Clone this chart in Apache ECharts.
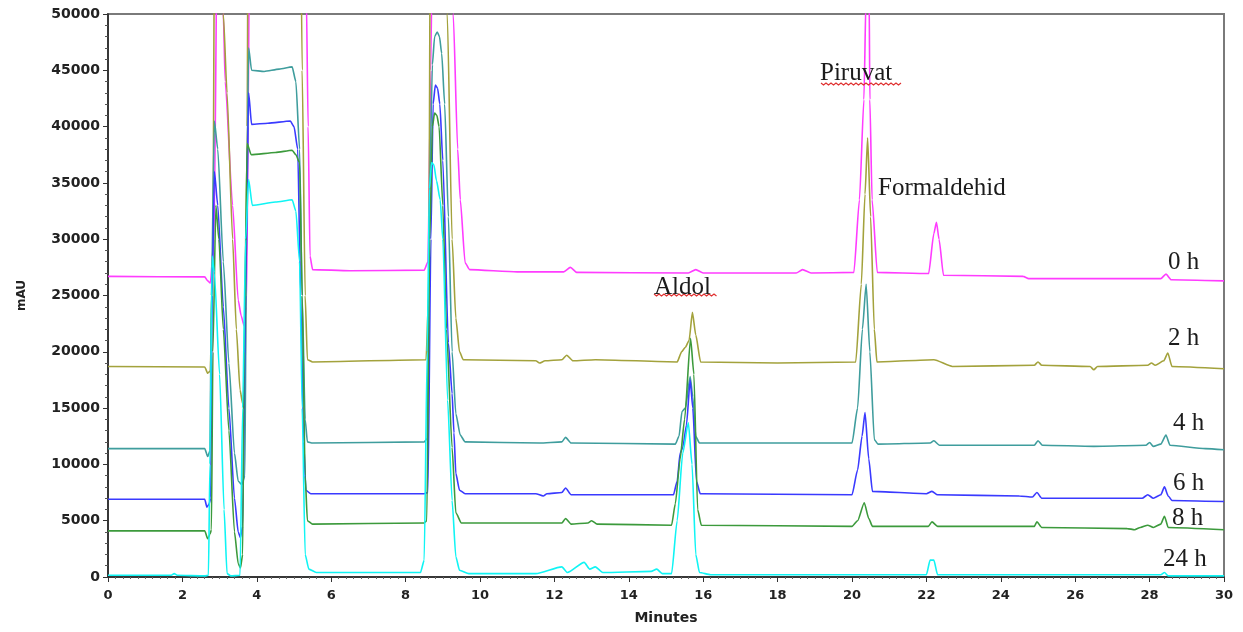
<!DOCTYPE html>
<html>
<head>
<meta charset="utf-8">
<script src="https://cdn.jsdelivr.net/npm/echarts@6/dist/echarts.min.js"></script>
<style>html,body{margin:0;padding:0;background:#fff}#c{width:1243px;height:632px}</style>
</head>
<body>
<div id="c"></div>
<script>
// x ticks (minutes) and y ticks (mAU)
const xTicks = [0, 2, 4, 6, 8, 10, 12, 14, 16, 18, 20, 22, 24, 26, 28, 30];
const yTicks = [0, 5000, 10000, 15000, 20000, 25000, 30000, 35000, 40000, 45000, 50000];

const seriesNames = ['0 h', '2 h', '4 h', '6 h', '8 h', '24 h'];

// [minute, mAU] pairs (values above 50000 are off-scale)
const trace0h = [[0,26700],[2.6,26650],[2.68,26300],[2.75,26100],[2.85,30000],[2.95,62000],[3.05,70000],[3.1,50000],[3.15,44000],[3.35,33000],[3.5,24600],[3.58,23200],[3.66,22300],[3.72,24000],[3.77,40000],[3.82,70000],[5.25,70000],[5.33,52000],[5.38,40000],[5.43,28500],[5.5,27300],[6.5,27200],[8.5,27250],[8.6,28000],[8.68,45000],[8.75,70000],[9.15,70000],[9.28,50000],[9.4,38000],[9.47,33500],[9.6,27900],[9.72,27300],[11,27100],[12.25,27100],[12.43,27500],[12.6,27050],[15.6,27000],[15.8,27300],[16,27000],[18.5,27000],[18.67,27300],[18.9,27000],[20.05,27050],[20.2,33500],[20.32,42400],[20.38,52000],[20.42,70000],[20.46,52000],[20.48,42400],[20.54,33500],[20.68,27050],[22.06,26950],[22.2,30500],[22.27,31500],[22.34,30000],[22.46,26800],[24.6,26700],[24.75,26500],[28.3,26500],[28.44,26900],[28.58,26400],[30,26300]];

const trace2h = [[0,18700],[2.6,18650],[2.68,18100],[2.75,18300],[2.82,30000],[2.88,70000],[2.97,70000],[3.1,50000],[3.2,43000],[3.35,30000],[3.45,22000],[3.55,16600],[3.62,15400],[3.68,15600],[3.74,40000],[3.78,70000],[5.15,70000],[5.22,45000],[5.3,25000],[5.36,19300],[5.5,19100],[8.55,19300],[8.62,25000],[8.68,70000],[9.05,70000],[9.12,50000],[9.25,30000],[9.35,23000],[9.45,20000],[9.55,19300],[11.5,19200],[11.6,19000],[11.75,19200],[12.2,19300],[12.33,19700],[12.5,19200],[13.1,19300],[15.3,19100],[15.42,20000],[15.52,20400],[15.62,21000],[15.71,23500],[15.8,21500],[15.93,19100],[18,19000],[20.1,19100],[20.25,26000],[20.35,34000],[20.42,39000],[20.5,32000],[20.6,22000],[20.67,19100],[22.2,19300],[22.7,18700],[24.9,18800],[25.0,19100],[25.1,18800],[26.4,18700],[26.5,18400],[26.6,18700],[27.95,18800],[28.05,19000],[28.15,18800],[28.38,19200],[28.49,19900],[28.6,18700],[30,18500]];

const trace4h = [[0,11400],[2.6,11400],[2.68,10700],[2.74,11200],[2.78,25000],[2.86,40500],[2.95,38000],[3.1,28000],[3.25,19000],[3.4,11000],[3.5,8500],[3.6,8200],[3.68,9000],[3.72,30000],[3.78,47000],[3.86,45000],[4.2,44900],[4.6,45100],[4.95,45300],[5.05,44000],[5.15,38000],[5.22,25000],[5.3,14000],[5.36,12000],[5.5,11900],[8.5,12000],[8.58,12300],[8.65,35000],[8.72,45500],[8.78,48000],[8.85,48400],[8.91,48000],[8.97,46500],[9.05,42000],[9.15,32000],[9.25,20000],[9.35,14500],[9.47,12600],[9.6,12000],[11.6,11900],[12.2,12000],[12.3,12400],[12.45,11900],[15.25,11800],[15.35,12500],[15.43,14700],[15.52,15000],[15.65,17800],[15.72,16000],[15.8,12500],[15.9,11900],[20.0,11900],[20.15,15000],[20.28,22000],[20.38,26000],[20.48,20000],[20.6,12200],[20.7,11800],[22.1,11900],[22.2,12100],[22.35,11700],[24.9,11700],[25.0,12100],[25.12,11700],[26.5,11600],[27.9,11700],[28.0,11950],[28.1,11600],[28.3,11800],[28.44,12600],[28.55,11700],[29.5,11400],[30,11300]];

const trace6h = [[0,6900],[2.6,6900],[2.66,6200],[2.72,6500],[2.76,7000],[2.8,25000],[2.86,36000],[2.95,33000],[3.1,24000],[3.25,15000],[3.4,7000],[3.5,4000],[3.56,3500],[3.62,4500],[3.7,25000],[3.78,43000],[3.86,40200],[4.3,40300],[4.9,40500],[5.0,40000],[5.1,38000],[5.18,25000],[5.26,12000],[5.32,7700],[5.45,7400],[8.5,7400],[8.6,7500],[8.68,30000],[8.74,42000],[8.8,43700],[8.86,43400],[8.92,42000],[9.0,37000],[9.15,20800],[9.25,16300],[9.3,12800],[9.35,9200],[9.45,7700],[9.6,7400],[11.5,7400],[11.7,7200],[11.8,7400],[12.2,7500],[12.3,7900],[12.45,7300],[15.2,7300],[15.3,8500],[15.38,11000],[15.45,11500],[15.55,13500],[15.65,17500],[15.72,15000],[15.82,8500],[15.92,7400],[20.0,7300],[20.15,9500],[20.27,12500],[20.35,14600],[20.45,10500],[20.55,7600],[22.0,7400],[22.15,7600],[22.3,7300],[24.5,7200],[24.85,7100],[24.97,7500],[25.1,7000],[27.8,7000],[27.95,7300],[28.1,7000],[28.3,7300],[28.4,8000],[28.5,7200],[28.6,6800],[30,6700]];

const trace8h = [[0,4100],[2.6,4100],[2.68,3400],[2.74,3800],[2.78,4200],[2.82,20000],[2.9,33000],[2.98,30000],[3.1,22000],[3.25,13000],[3.4,4000],[3.5,1200],[3.56,800],[3.62,2000],[3.66,20000],[3.74,38500],[3.85,37500],[4.5,37700],[4.95,37900],[5.05,37500],[5.15,36800],[5.22,25000],[5.3,9000],[5.36,5000],[5.5,4700],[8.5,4800],[8.57,5000],[8.65,30000],[8.72,40000],[8.78,41200],[8.84,41000],[8.9,40000],[9.0,33000],[9.1,22000],[9.25,11500],[9.35,5700],[9.5,4800],[12.2,4800],[12.3,5200],[12.45,4700],[12.9,4800],[13.0,5000],[13.15,4700],[15.15,4600],[15.25,6500],[15.38,10500],[15.5,14000],[15.66,21200],[15.75,18000],[15.85,6000],[15.95,4600],[20.0,4500],[20.15,5000],[20.33,6600],[20.45,5200],[20.55,4500],[22.05,4500],[22.15,4900],[22.3,4500],[24.9,4500],[24.97,4900],[25.1,4400],[27.4,4300],[27.6,4200],[27.75,4400],[27.95,4600],[28.1,4400],[28.3,4700],[28.4,5400],[28.5,4400],[30,4200]];

const trace24h = [[0,150],[1.7,150],[1.78,300],[1.86,150],[2.6,100],[2.7,150],[2.74,10000],[2.8,28500],[2.86,27000],[3.0,18000],[3.12,6000],[3.2,300],[3.3,100],[3.55,150],[3.62,15000],[3.7,30000],[3.78,35300],[3.88,33000],[4.5,33300],[4.95,33500],[5.05,32500],[5.15,28000],[5.22,15000],[5.3,2000],[5.4,700],[5.6,400],[8.4,400],[8.5,1500],[8.58,20000],[8.64,34500],[8.7,36800],[8.76,36600],[8.83,35200],[8.93,33500],[9.0,30000],[9.13,15700],[9.25,6800],[9.35,1800],[9.45,600],[9.7,300],[11.5,300],[12.2,900],[12.35,400],[12.8,1300],[12.95,700],[13.1,900],[13.3,400],[14.6,500],[14.75,700],[14.9,300],[15.15,300],[15.3,5000],[15.45,11000],[15.6,13700],[15.7,10000],[15.8,2000],[15.9,400],[16.2,200],[22.0,200],[22.1,1500],[22.2,1500],[22.3,200],[28.3,200],[28.4,400],[28.5,100],[30,100]];

const colors = ['#ff3cff', '#a3a23c', '#3f9d9d', '#3a3aff', '#3c9a3c', '#10f4f4'];
const traces = [trace0h, trace2h, trace4h, trace6h, trace8h, trace24h];
const drawOrder = [0, 1, 2, 3, 4, 5];

const chart = echarts.init(document.getElementById('c'));

const serif = '"Liberation Serif", "Times New Roman", serif';
function wavy(x0, x1, y) {
  const pts = [];
  let k = 0;
  for (let x = x0; x <= x1; x += 2.5, k++) pts.push([x, y + (k % 2 ? 2 : 0)]);
  return pts;
}
const labels = [
  ['Piruvat', 820, 73], ['Formaldehid', 878, 188], ['Aldol', 654, 287],
  ['0 h', 1168, 262], ['2 h', 1168, 338], ['4 h', 1173, 423],
  ['6 h', 1173, 483], ['8 h', 1172, 518], ['24 h', 1163, 559]
];
const graphics = labels.map(l => ({
  type: 'text', x: l[1], y: l[2], z: 100,
  style: { text: l[0], font: '25px ' + serif, fill: '#1c1c1c', textAlign: 'left', textVerticalAlign: 'middle' }
}));
graphics.push({ type: 'polyline', z: 99, shape: { points: wavy(821, 902, 83) }, style: { stroke: '#e03030', lineWidth: 1.2, fill: null } });
graphics.push({ type: 'polyline', z: 99, shape: { points: wavy(654, 717, 294) }, style: { stroke: '#e03030', lineWidth: 1.2, fill: null } });

const labelFont = { fontFamily: '"DejaVu Sans", Arial, sans-serif', fontWeight: 'bold', fontSize: 13, color: '#222' };

chart.setOption({
  animation: false,
  backgroundColor: '#fff',
  grid: { left: 108, right: 19, top: 14, bottom: 55, show: true, borderColor: '#7a7a7a', borderWidth: 2, backgroundColor: 'transparent' },
  xAxis: {
    type: 'value', min: xTicks[0], max: xTicks[xTicks.length - 1], interval: 2,
    name: 'Minutes', nameLocation: 'middle', nameGap: 34,
    nameTextStyle: Object.assign({}, labelFont, { fontSize: 14 }),
    axisLine: { show: true, lineStyle: { color: '#222', width: 1.5 } },
    axisTick: { show: true, length: 5, lineStyle: { color: '#333' } },
    minorTick: { show: true, splitNumber: 10, length: 2, lineStyle: { color: '#666' } },
    splitLine: { show: false },
    axisLabel: Object.assign({ margin: 12, formatter: v => String(v) }, labelFont)
  },
  yAxis: {
    type: 'value', min: yTicks[0], max: yTicks[yTicks.length - 1], interval: 5000,
    name: 'mAU', nameLocation: 'middle', nameGap: 80, nameRotate: 90,
    nameTextStyle: Object.assign({}, labelFont, { fontSize: 12 }),
    axisLine: { show: true, lineStyle: { color: '#222', width: 1.5 } },
    axisTick: { show: true, length: 5, lineStyle: { color: '#333' } },
    minorTick: { show: true, splitNumber: 5, length: 3, lineStyle: { color: '#555' } },
    splitLine: { show: false },
    axisLabel: Object.assign({ margin: 8, formatter: v => String(v) }, labelFont, { fontSize: 14 })
  },
  series: drawOrder.map(i => ({
    name: seriesNames[i], type: 'line', data: traces[i], showSymbol: false, symbol: 'none',
    clip: true, smooth: 0.2, smoothMonotone: 'x', lineStyle: { color: colors[i], width: 1.6 }, itemStyle: { color: colors[i] },
    z: 2 + drawOrder.indexOf(i)
  })),
  graphic: graphics
});
</script>
</body>
</html>
